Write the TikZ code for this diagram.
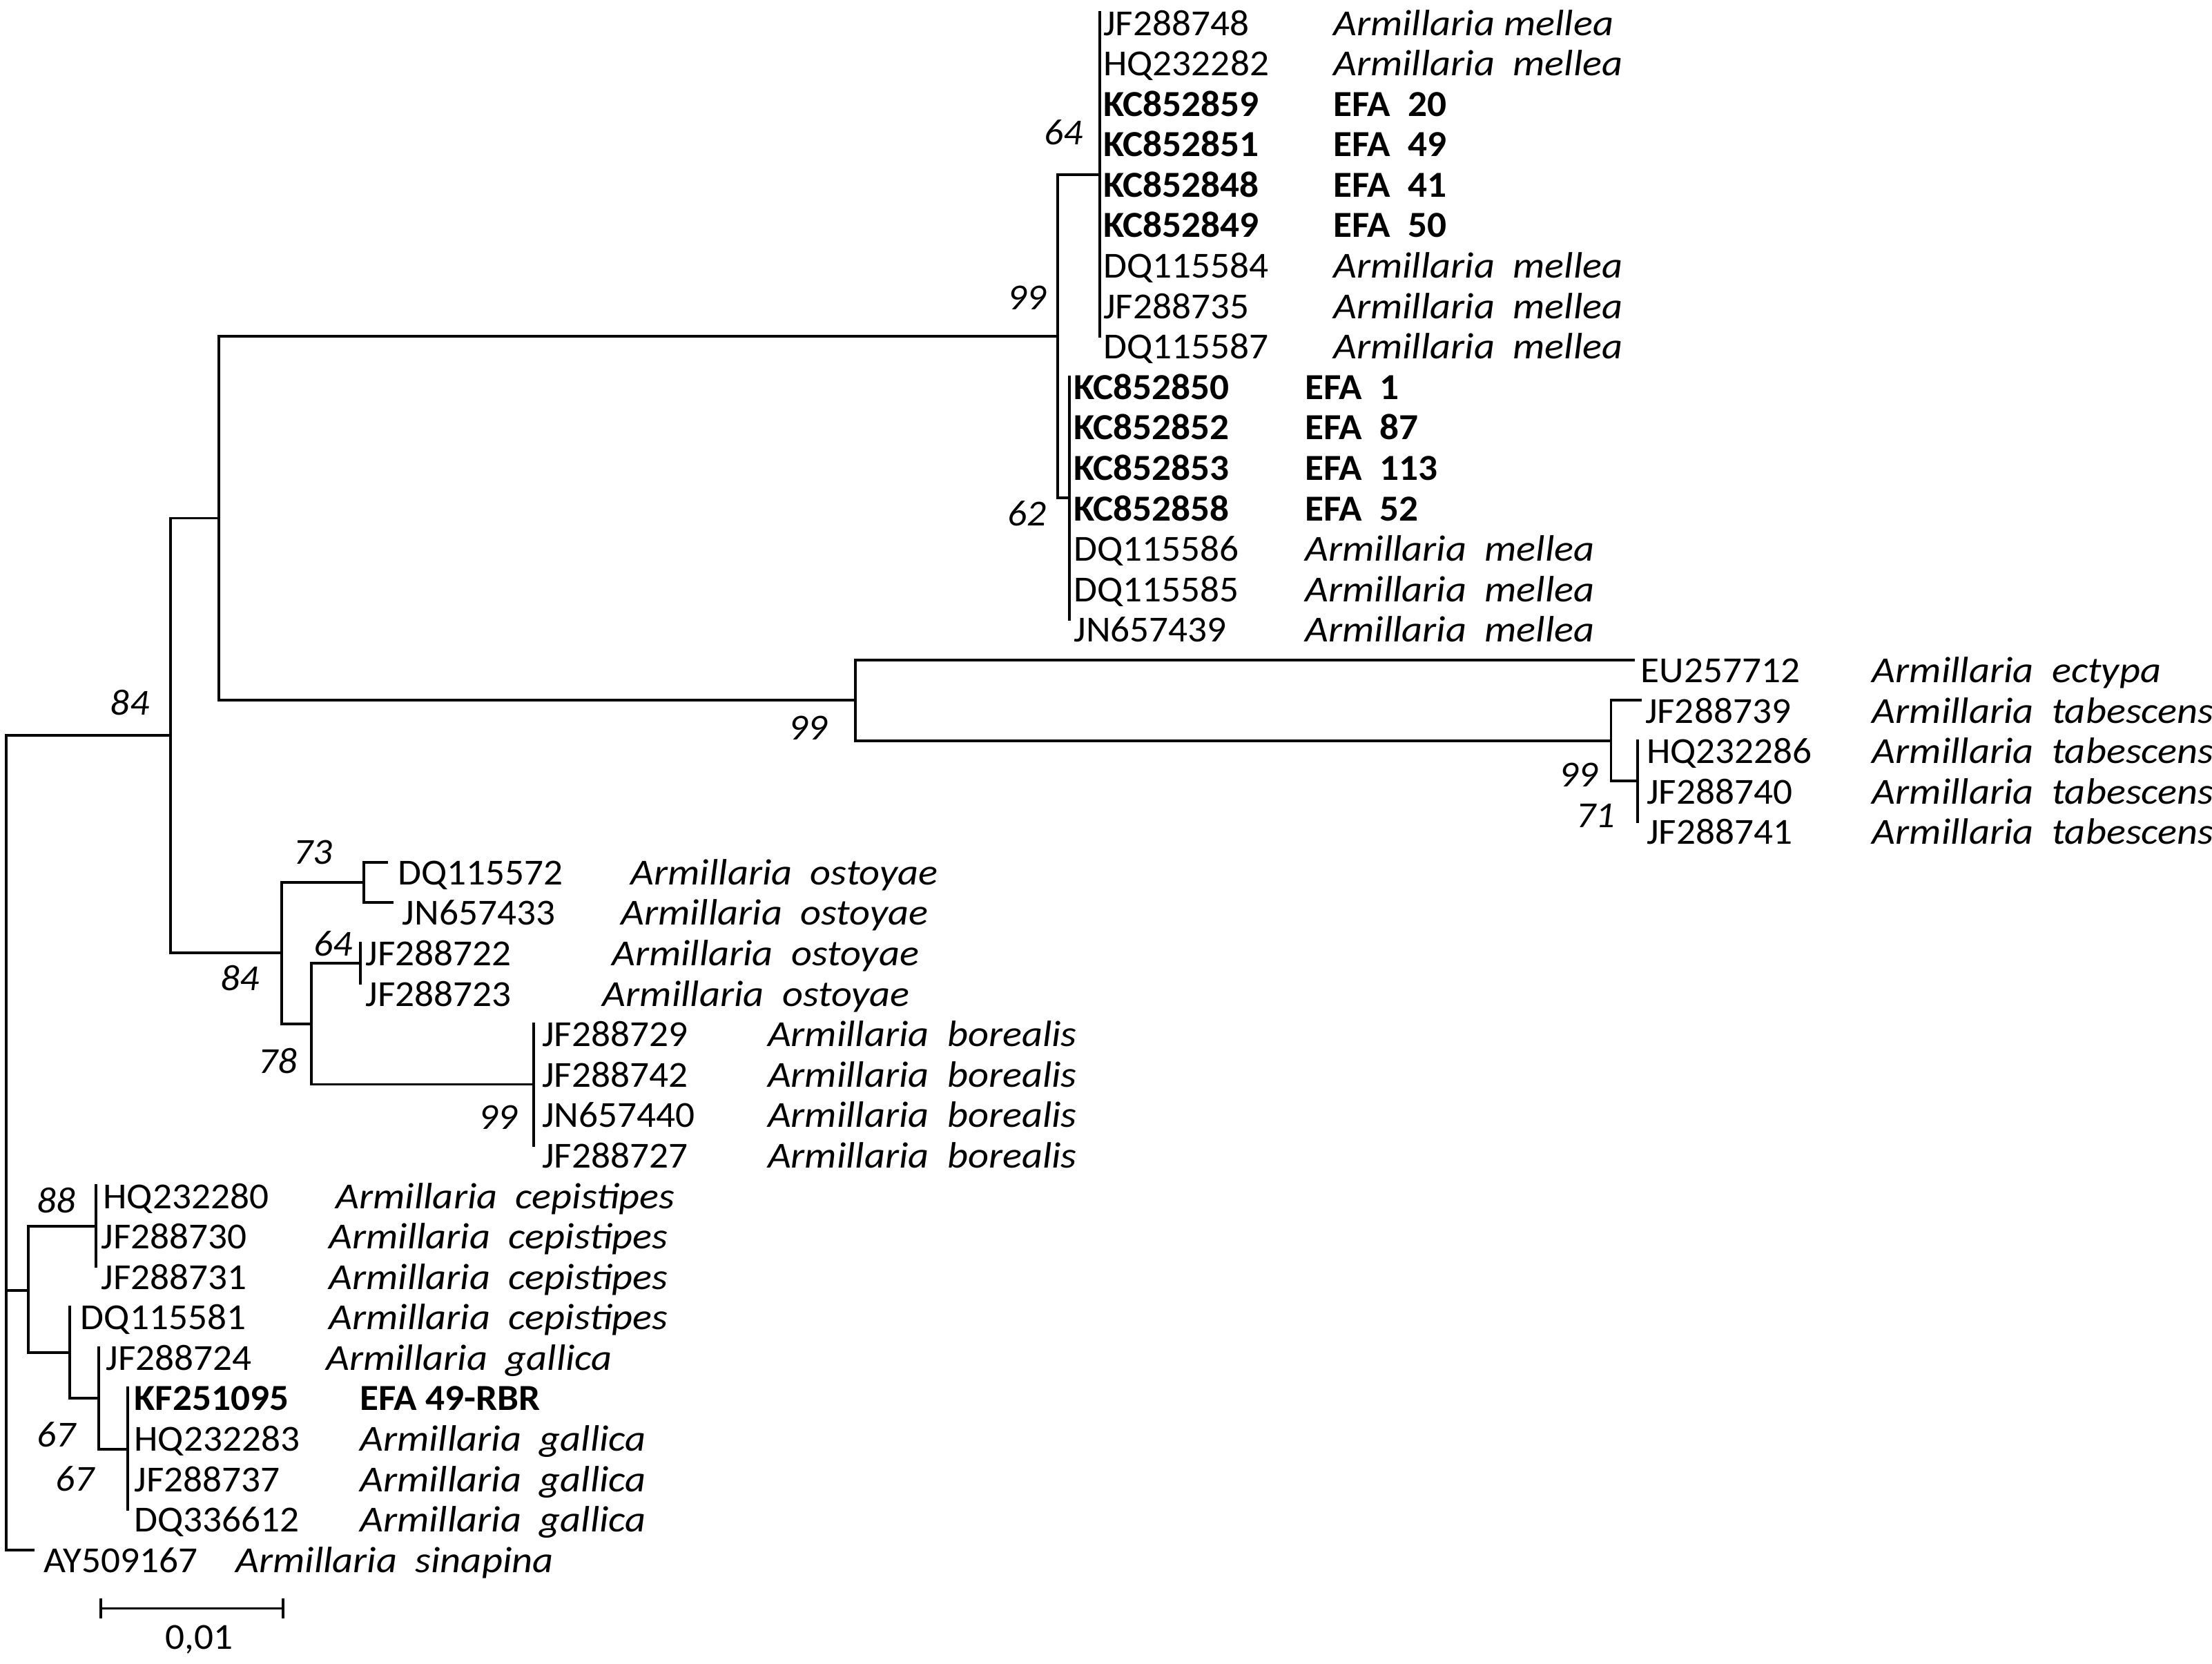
\documentclass[tikz,border=0pt]{standalone}
\usepackage{fontspec}
\setmainfont{Carlito}[FakeStretch=1.04]
\newfontfamily\spfont{Carlito}[FakeStretch=1.1]
\newcommand\sptxt[1]{{\spfont\itshape #1}}
\newcommand\mktip[7]{%
  \pgfmathsetmacro\tipy{9+(#3-1)*28.67}%
  \coordinate (#1) at (#2,\tipy);
  \node[lab] (#1a) at (#4-1,\tipy+16) {#5};
  \node[lab] (#1s) at (#6-1,\tipy+16) {#7};
}
\tikzset{
  br/.style={line width=1.9pt, line cap=rect},
  lab/.style={anchor=base west, inner sep=0pt},
  bs/.style={font=\fontsize{26}{30}\selectfont\itshape, inner sep=0pt, anchor=center},
}
\begin{document}
\begin{tikzpicture}[x=1pt,y=-1pt,font=\fontsize{26}{30}\selectfont]
\fill[white] (0,0) rectangle (1568,1179.4);
\useasboundingbox (0,0) rectangle (1568,1179.4);

% ---------- tips ----------
\mktip{t1}{779.5}{1}{783}{JF288748}{946}{\sptxt{Armillaria mellea}}
\mktip{t2}{779.5}{2}{783}{HQ232282}{946}{\sptxt{Armillaria\ \ mellea}}
\mktip{t3}{779.5}{3}{783}{\textbf{KC852859}}{946}{\textbf{EFA\ \ 20}}
\mktip{t4}{779.5}{4}{783}{\textbf{KC852851}}{946}{\textbf{EFA\ \ 49}}
\mktip{t5}{779.5}{5}{783}{\textbf{KC852848}}{946}{\textbf{EFA\ \ 41}}
\mktip{t6}{779.5}{6}{783}{\textbf{KC852849}}{946}{\textbf{EFA\ \ 50}}
\mktip{t7}{779.5}{7}{783}{DQ115584}{946}{\sptxt{Armillaria\ \ mellea}}
\mktip{t8}{779.5}{8}{783}{JF288735}{946}{\sptxt{Armillaria\ \ mellea}}
\mktip{t9}{779.5}{9}{783}{DQ115587}{946}{\sptxt{Armillaria\ \ mellea}}
\mktip{t10}{758}{10}{762}{\textbf{KC852850}}{926}{\textbf{EFA\ \ 1}}
\mktip{t11}{758}{11}{762}{\textbf{KC852852}}{926}{\textbf{EFA\ \ 87}}
\mktip{t12}{758}{12}{762}{\textbf{KC852853}}{926}{\textbf{EFA\ \ 113}}
\mktip{t13}{758}{13}{762}{\textbf{KC852858}}{926}{\textbf{EFA\ \ 52}}
\mktip{t14}{758}{14}{762}{DQ115586}{926}{\sptxt{Armillaria\ \ mellea}}
\mktip{t15}{758}{15}{762}{DQ115585}{926}{\sptxt{Armillaria\ \ mellea}}
\mktip{t16}{758}{16}{762}{JN657439}{926}{\sptxt{Armillaria\ \ mellea}}
\mktip{t17}{1158}{17}{1164}{EU257712}{1328}{\sptxt{Armillaria\ \ ectypa}}
\mktip{t18}{1163}{18}{1167}{JF288739}{1328}{\sptxt{Armillaria\ \ tabescens}}
\mktip{t19}{1160.7}{19}{1168}{HQ232286}{1328}{\sptxt{Armillaria\ \ tabescens}}
\mktip{t20}{1160.7}{20}{1168}{JF288740}{1328}{\sptxt{Armillaria\ \ tabescens}}
\mktip{t21}{1160.7}{21}{1168}{JF288741}{1328}{\sptxt{Armillaria\ \ tabescens}}
\mktip{t22}{274}{22}{283}{DQ115572}{448}{\sptxt{Armillaria\ \ ostoyae}}
\mktip{t23}{278}{23}{286}{JN657433}{441}{\sptxt{Armillaria\ \ ostoyae}}
\mktip{t24}{255.6}{24}{260}{JF288722}{434.5}{\sptxt{Armillaria\ \ ostoyae}}
\mktip{t25}{255.6}{25}{260}{JF288723}{428}{\sptxt{Armillaria\ \ ostoyae}}
\mktip{t26}{378.5}{26}{385}{JF288729}{545}{\sptxt{Armillaria\ \ borealis}}
\mktip{t27}{378.5}{27}{385}{JF288742}{545}{\sptxt{Armillaria\ \ borealis}}
\mktip{t28}{378.5}{28}{385}{JN657440}{545}{\sptxt{Armillaria\ \ borealis}}
\mktip{t29}{378.5}{29}{385}{JF288727}{545}{\sptxt{Armillaria\ \ borealis}}
\mktip{t30}{68.2}{30}{74}{HQ232280}{239}{\sptxt{Armillaria\ \ cepistipes}}
\mktip{t31}{68.2}{31}{72.6}{JF288730}{234}{\sptxt{Armillaria\ \ cepistipes}}
\mktip{t32}{68.2}{32}{72.6}{JF288731}{234}{\sptxt{Armillaria\ \ cepistipes}}
\mktip{t33}{49.5}{33}{58}{DQ115581}{234}{\sptxt{Armillaria\ \ cepistipes}}
\mktip{t34}{70}{34}{76}{JF288724}{232}{\sptxt{Armillaria\ \ gallica}}
\mktip{t35}{90.5}{35}{96}{\textbf{KF251095}}{256}{\textbf{EFA 49-RBR}}
\mktip{t36}{90.5}{36}{96}{HQ232283}{256}{\sptxt{Armillaria\ \ gallica}}
\mktip{t37}{90.5}{37}{96}{JF288737}{256}{\sptxt{Armillaria\ \ gallica}}
\mktip{t38}{90.5}{38}{96}{DQ336612}{256}{\sptxt{Armillaria\ \ gallica}}
\mktip{t39}{23.4}{39}{32}{AY509167}{168}{\sptxt{Armillaria\ \ sinapina}}

% ---------- internal nodes ----------
\coordinate (R)   at (4.3,844.7);
\coordinate (Y)   at (121,521.4);
\coordinate (X)   at (155,367.3);
\coordinate (M)   at (749.6,238.3);
\coordinate (nA)  at (779.5,123.7);
\coordinate (nB)  at (758,353);
\coordinate (T0)  at (606.5,496.4);
\coordinate (TB)  at (1142,525);
\coordinate (TC)  at (1160.7,553.7);
\coordinate (Z)   at (199.5,675.5);
\coordinate (N73) at (258,625.4);
\coordinate (N78) at (220.7,725.7);
\coordinate (N64) at (255.6,682.7);
\coordinate (NB)  at (378.5,768.6);
\coordinate (W)   at (20,914.6);
\coordinate (N88) at (68.2,869);
\coordinate (V)   at (49.5,958.7);
\coordinate (U)   at (70,991);
\coordinate (Tn)  at (90.5,1027);

% ---------- branches ----------
\begin{scope}[br]
\draw (R) |- (Y);  \draw (R) |- (W);  \draw (R) |- (t39);
\draw (Y) |- (X);  \draw (Y) |- (Z);
\draw (X) |- (M);  \draw (X) |- (T0);
\draw (M) |- (nA); \draw (M) |- (nB);
\draw (nA) -- (t1); \draw (nA) -- (t9);
\draw (nB) -- (t10); \draw (nB) -- (t16);
\draw (T0) |- (t17); \draw (T0) |- (TB);
\draw (TB) |- (t18); \draw (TB) |- (TC);
\draw (TC) -- (t19); \draw (TC) -- (t21);
\draw (Z) |- (N73); \draw (Z) |- (N78);
\draw (N73) |- (t22); \draw (N73) |- (t23);
\draw (N78) |- (N64); \draw (N78) |- (NB);
\draw (N64) -- (t24); \draw (N64) -- (t25);
\draw (NB) -- (t26); \draw (NB) -- (t29);
\draw (W) |- (N88); \draw (W) |- (V);
\draw (N88) -- (t30); \draw (N88) -- (t32);
\draw (V) -- (t33); \draw (V) |- (U);
\draw (U) -- (t34); \draw (U) |- (Tn);
\draw (Tn) -- (t35); \draw (Tn) -- (t38);
\end{scope}

% ---------- bootstrap values ----------
\node[bs] (b1)  at (754,94)   {64};
\node[bs] (b2)  at (728,211)  {99};
\node[bs] (b3)  at (728,364)  {62};
\node[bs] (b4)  at (92,498)   {84};
\node[bs] (b5)  at (573,516)  {99};
\node[bs] (b6)  at (1119,549) {99};
\node[bs] (b7)  at (1131,578) {71};
\node[bs] (b8)  at (222,604)  {73};
\node[bs] (b9)  at (170,693)  {84};
\node[bs] (b10) at (236,669)  {64};
\node[bs] (b11) at (197,752)  {78};
\node[bs] (b12) at (353,792)  {99};
\node[bs] (b13) at (40,851)   {88};
\node[bs] (b14) at (40,1017)  {67};
\node[bs] (b15) at (53,1048)  {67};

% ---------- scale bar ----------
\coordinate (sbL) at (71.5,1140);
\coordinate (sbR) at (200.6,1140);
\coordinate (sbLt) at (71.5,1134);
\coordinate (sbLb) at (71.5,1146);
\coordinate (sbRt) at (200.6,1134);
\coordinate (sbRb) at (200.6,1146);
\draw[br] (sbL) -- (sbR);
\draw[br] (sbLt) -- (sbLb);
\draw[br] (sbRt) -- (sbRb);
\node[inner sep=0pt] (sbT) at (141,1162) {0,01};
\end{tikzpicture}
\end{document}
